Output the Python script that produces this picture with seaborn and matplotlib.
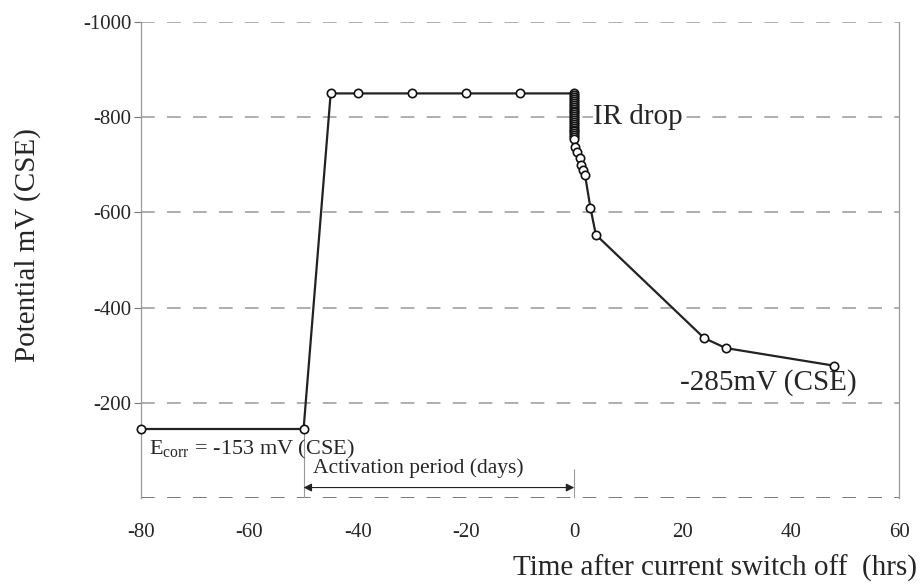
import numpy as np
import pandas as pd
import seaborn as sns
from matplotlib import pyplot as plt

# time axis: days before switch off (negative), hours after switch off (positive)
time = [-80, -50, -45, -40, -30, -20, -10,
        0, 0, 0, 0, 0, 0, 0, 0, 0, 0, 0, 0, 0, 0, 0, 0, 0, 0, 0, 0, 0, 0, 0, 0, 0,
        0.2, 0.5, 1.0, 1.3, 1.7, 2.0, 3.0, 4.0, 24, 28, 48]
potential = [-145, -145, -850, -850, -850, -850, -850,
             -850, -846, -842, -838, -834, -830, -826, -822, -818, -814, -810, -806, -802,
             -798, -794, -790, -786, -782, -778, -774, -770, -766, -762, -758, -754,
             -737, -727, -714, -700, -689, -678, -609, -553, -336, -315, -278]

x_ticks = [-80, -60, -40, -20, 0, 20, 40, 60]
y_ticks = [-1000, -800, -600, -400, -200]

df = pd.DataFrame({"time": time, "potential": potential})

sns.set_style("white")
plt.rcParams["font.family"] = ["Liberation Serif", "DejaVu Serif"]
plt.rcParams["mathtext.fontset"] = "stix"

fig = plt.figure(figsize=(9.23, 5.87), dpi=100)
ax = fig.add_axes([0.153, 0.1516, 0.821, 0.8109])

# dashed grid lines (scanned look)
for yv in y_ticks + [0]:
    ax.axhline(yv, color="#555555" if yv == 0 else "#999999", lw=1.1,
               linestyle=(0, (9, 8)), zorder=0)

sns.lineplot(data=df, x="time", y="potential", sort=False, estimator=None,
             color="#222222", lw=1.6, marker="o", markersize=6,
             markerfacecolor="white", markeredgecolor="#111111",
             markeredgewidth=1.2, ax=ax, zorder=3, clip_on=False)

# guide lines for the activation period
ax.vlines(time[1], potential[1], 0, color="#999999", lw=0.8, zorder=1)
ax.vlines(0, -60, 0, color="#999999", lw=0.8, zorder=1)
ax.annotate("", xy=(-50, -22), xytext=(0, -22),
            arrowprops=dict(arrowstyle="<|-|>", color="#222222", lw=0.8,
                            mutation_scale=12, shrinkA=0, shrinkB=0))

ax.text(3.5, -800, "IR drop", fontsize=21, va="center", ha="left",
        bbox=dict(facecolor="white", edgecolor="none", pad=0.5))
ax.text(19.6, -242, "-285mV (CSE)", fontsize=21, va="center", ha="left")
ax.text(-78.5, -102, r"E$_{\mathregular{corr}}$ = -153 mV (CSE)", fontsize=16,
        va="center", ha="left")
ax.text(-48.3, -62, "Activation period (days)", fontsize=15.5, va="center", ha="left")

ax.set_xlim(-80, 60)
ax.set_ylim(0, -1000)
ax.set_xticks(x_ticks)
ax.set_yticks(y_ticks)
ax.set_xticklabels([str(v) for v in x_ticks])
ax.set_yticklabels([str(v) for v in y_ticks])
ax.tick_params(axis="x", length=0, pad=18, labelsize=15)
ax.tick_params(axis="y", length=5, width=0.8, color="#777777", pad=2, labelsize=15,
               direction="out", left=True)
ax.set_xlabel("")
ax.set_ylabel("")

for side in ["top", "bottom"]:
    ax.spines[side].set_visible(False)
for side in ["left", "right"]:
    ax.spines[side].set_color("#999999")
    ax.spines[side].set_linewidth(0.9)

fig.text(0.994, 0.032, "Time after current switch off  (hrs)", fontsize=21,
         ha="right", va="center")
fig.text(0.03, 0.583, "Potential mV (CSE)", fontsize=21, rotation=90,
         ha="center", va="center")

fig.savefig("out.png", dpi=100)
